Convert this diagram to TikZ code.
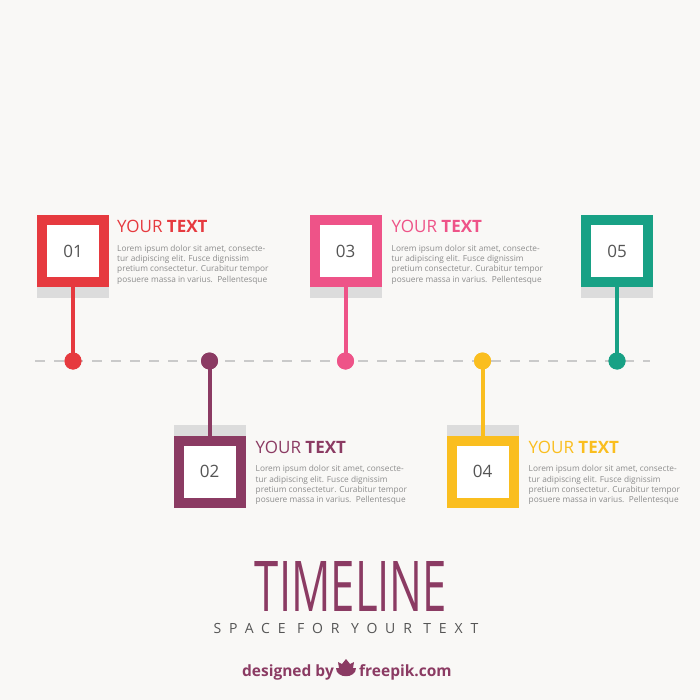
\documentclass[tikz,border=0pt]{standalone}
\usepackage{fontspec}
\setmainfont{Open Sans}
\usepackage{graphicx}
\usetikzlibrary{positioning}
\definecolor{bgc}{HTML}{F9F8F6}
\definecolor{redc}{HTML}{E63A3F}
\definecolor{plumc}{HTML}{8B3B63}
\definecolor{pinkc}{HTML}{EE5388}
\definecolor{yellowc}{HTML}{FABE1F}
\definecolor{tealc}{HTML}{18A185}
\definecolor{stripc}{HTML}{DCDCDC}
\definecolor{dashc}{HTML}{CACACA}
\definecolor{numc}{HTML}{555555}
\definecolor{blurbc}{HTML}{8C8C8C}
\newcommand{\blurbtext}{Lorem ipsum dolor sit amet, consecte-\\tur adipiscing elit. Fusce dignissim\\pretium consectetur. Curabitur tempor\\posuere massa in varius.\ \ Pellentesque}

\begin{document}
\begin{tikzpicture}[x=1pt, y=-1pt,
		numbox/.style={draw=#1, line width=10pt, fill=white, minimum size=62pt, inner sep=0pt, text=numc, font=\fontsize{17}{17}\selectfont},
		stem/.style={draw=#1, line width=4pt},
		dot/.style={circle, fill=#1, minimum size=17pt, inner sep=0pt},
		heading/.style={text=#1, inner sep=0pt, font=\fontsize{17}{17}\selectfont},
		blurb/.style={text=blurbc, inner sep=0pt, align=left, font=\fontsize{8.3}{10.3}\selectfont},
		credit/.style={inner sep=0pt, text=plumc, font=\fontsize{15.5}{15.5}\selectfont\bfseries},
		dashline/.style={draw=dashc, line width=1.6pt, dash pattern=on 10pt off 9pt}]
	\fill[bgc] (0,0) rectangle (700,700);
	\coordinate (lstart) at (35,361);
	\coordinate (lend) at (650,361);
	\draw[dashline] (lstart) -- (lend);
	
	\node[numbox=redc] (b1) at (73,251) {01};
	\node[numbox=plumc] (b2) at (209.5,471.5) {02};
	\node[numbox=pinkc] (b3) at (345.5,251) {03};
	\node[numbox=yellowc] (b4) at (482.5,471.5) {04};
	\node[numbox=tealc] (b5) at (617,251) {05};
	
	\fill[stripc] (b1.south west) rectangle ([yshift=-11pt]b1.south east);
	\fill[stripc] (b2.north west) rectangle ([yshift=11pt]b2.north east);
	\fill[stripc] (b3.south west) rectangle ([yshift=-11pt]b3.south east);
	\fill[stripc] (b4.north west) rectangle ([yshift=11pt]b4.north east);
	\fill[stripc] (b5.south west) rectangle ([yshift=-11pt]b5.south east);
	
	\node[dot=redc] (d1) at (73,361) {};
	\node[dot=plumc] (d2) at (209.5,361) {};
	\node[dot=pinkc] (d3) at (345.5,361) {};
	\node[dot=yellowc] (d4) at (482.5,361) {};
	\node[dot=tealc] (d5) at (617,361) {};
	
	\draw[stem=redc] (b1) -- (d1.center);
	\draw[stem=plumc] (b2) -- (d2.center);
	\draw[stem=pinkc] (b3) -- (d3.center);
	\draw[stem=yellowc] (b4) -- (d4.center);
	\draw[stem=tealc] (b5) -- (d5.center);
	\node[dot=redc] at (d1) {};
	\node[dot=plumc] at (d2) {};
	\node[dot=pinkc] at (d3) {};
	\node[dot=yellowc] at (d4) {};
	\node[dot=tealc] at (d5) {};
	
	\node[heading=redc, right=8pt of b1.north east, anchor=north west, yshift=-5pt] (h1) {YOUR \textbf{TEXT}};
	\node[blurb, below=12pt of h1.south west, anchor=north west] (p1) {\blurbtext};
	\node[heading=plumc, right=10pt of b2.north east, anchor=north west, yshift=-5pt] (h2) {YOUR \textbf{TEXT}};
	\node[blurb, below=12pt of h2.south west, anchor=north west] (p2) {\blurbtext};
	\node[heading=pinkc, right=10pt of b3.north east, anchor=north west, yshift=-5pt] (h3) {YOUR \textbf{TEXT}};
	\node[blurb, below=12pt of h3.south west, anchor=north west] (p3) {\blurbtext};
	\node[heading=yellowc, right=10pt of b4.north east, anchor=north west, yshift=-5pt] (h4) {YOUR \textbf{TEXT}};
	\node[blurb, below=12pt of h4.south west, anchor=north west] (p4) {\blurbtext};
	
	\node[inner sep=0pt, text=plumc] (title) at (351,586) {\resizebox{192pt}{50pt}{TIMELINE}};
	\node[inner sep=0pt, text=numc, font=\fontsize{14}{14}\selectfont\addfontfeatures{LetterSpace=56}] (sub) at (346,628) {SPACE FOR YOUR TEXT};
	
	\coordinate (logo) at (346,668);
	\fill[plumc] ([xshift=-10pt]logo) .. controls ([xshift=-10pt,yshift=-11pt]logo) and ([xshift=10pt,yshift=-11pt]logo) .. ([xshift=10pt]logo) -- cycle;
	\fill[plumc] ([xshift=-7pt]logo) -- ([xshift=-8pt,yshift=6pt]logo) -- ([xshift=-4pt,yshift=4pt]logo) -- ([yshift=9pt]logo) -- ([xshift=4pt,yshift=4pt]logo) -- ([xshift=8pt,yshift=6pt]logo) -- ([xshift=7pt]logo) -- cycle;
	\node[credit, left=12pt of logo, yshift=-4pt] (designed) {designed by};
	\node[credit, right=13pt of logo, yshift=-4pt] (freepik) {freepik.com};
\end{tikzpicture}
\end{document}
